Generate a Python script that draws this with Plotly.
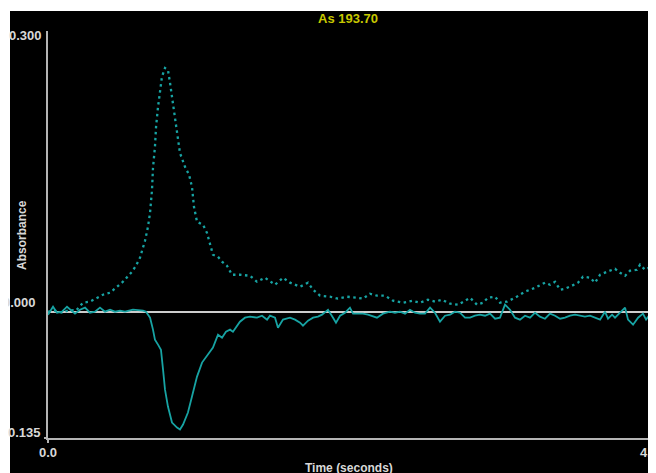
import plotly.graph_objects as go

# ---- data ----
dotted_t = [0.000, 0.057, 0.114, 0.179, 0.228, 0.285, 0.342, 0.400, 0.448, 0.506, 0.563, 0.611,
            0.685, 0.717, 0.750, 0.791, 0.815, 0.832, 0.848, 0.856, 0.872, 0.881, 0.897, 0.913,
            0.929, 0.954, 0.978, 0.995, 1.011, 1.035, 1.060, 1.076, 1.117, 1.150, 1.174, 1.190,
            1.215, 1.264, 1.296, 1.321, 1.345, 1.386, 1.419, 1.459, 1.500, 1.565, 1.622, 1.647,
            1.704, 1.769, 1.851, 1.916, 1.973, 2.055, 2.120, 2.161, 2.218, 2.299, 2.364, 2.438,
            2.519, 2.568, 2.625, 2.682, 2.748, 2.813, 2.894, 2.968, 3.033, 3.098, 3.155, 3.212,
            3.278, 3.343, 3.400, 3.441, 3.498, 3.547, 3.587, 3.645, 3.685, 3.742, 3.808, 3.889,
            3.971, 4.052, 4.093, 4.134, 4.175, 4.215, 4.272, 4.321, 4.362, 4.419, 4.460, 4.501,
            4.558, 4.623, 4.664, 4.705, 4.745, 4.802, 4.827, 4.868, 4.900]
dotted_v = [0.0000, 0.0010, -0.0010, 0.0020, 0.0010, 0.0096, 0.0107, 0.0149, 0.0181, 0.0203, 0.0267, 0.0320,
            0.0427, 0.0491, 0.0577, 0.0758, 0.0907, 0.1057, 0.1302, 0.1537, 0.1762, 0.1975, 0.2189, 0.2370,
            0.2509, 0.2605, 0.2584, 0.2445, 0.2295, 0.2124, 0.1868, 0.1697, 0.1548, 0.1463, 0.1334, 0.1121,
            0.0961, 0.0929, 0.0843, 0.0715, 0.0609, 0.0587, 0.0534, 0.0491, 0.0395, 0.0395, 0.0384, 0.0384,
            0.0320, 0.0363, 0.0288, 0.0363, 0.0310, 0.0267, 0.0310, 0.0235, 0.0171, 0.0160, 0.0139, 0.0160,
            0.0149, 0.0139, 0.0192, 0.0171, 0.0171, 0.0117, 0.0096, 0.0117, 0.0096, 0.0128, 0.0107, 0.0128,
            0.0085, 0.0075, 0.0117, 0.0149, 0.0075, 0.0096, 0.0149, 0.0160, 0.0096, 0.0107, 0.0149, 0.0214,
            0.0256, 0.0310, 0.0288, 0.0320, 0.0235, 0.0246, 0.0278, 0.0310, 0.0374, 0.0363, 0.0310, 0.0395,
            0.0427, 0.0459, 0.0416, 0.0384, 0.0438, 0.0448, 0.0502, 0.0448, 0.0470]

solid_t = [0.000, 0.033, 0.041, 0.073, 0.114, 0.155, 0.196, 0.220, 0.261, 0.302, 0.342, 0.383,
           0.424, 0.465, 0.506, 0.546, 0.587, 0.628, 0.693, 0.775, 0.799, 0.832, 0.856, 0.872,
           0.897, 0.921, 0.938, 0.954, 0.978, 1.011, 1.052, 1.076, 1.101, 1.141, 1.174, 1.215,
           1.256, 1.305, 1.345, 1.386, 1.419, 1.451, 1.484, 1.508, 1.565, 1.606, 1.647, 1.704,
           1.745, 1.786, 1.810, 1.851, 1.875, 1.916, 1.973, 2.014, 2.055, 2.079, 2.120, 2.161,
           2.201, 2.234, 2.283, 2.324, 2.348, 2.381, 2.422, 2.462, 2.487, 2.527, 2.568, 2.609,
           2.642, 2.682, 2.731, 2.788, 2.829, 2.870, 2.911, 2.951, 2.992, 3.033, 3.074, 3.115,
           3.155, 3.196, 3.237, 3.278, 3.318, 3.359, 3.400, 3.441, 3.481, 3.522, 3.563, 3.604,
           3.645, 3.685, 3.726, 3.767, 3.808, 3.848, 3.889, 3.930, 3.971, 4.011, 4.052, 4.093,
           4.134, 4.175, 4.215, 4.256, 4.297, 4.338, 4.378, 4.419, 4.460, 4.501, 4.541, 4.566,
           4.599, 4.623, 4.664, 4.705, 4.729, 4.770, 4.811, 4.851, 4.876, 4.900]
solid_v = [-0.0032, 0.0043, 0.0053, -0.0011, 0.0000, 0.0053, 0.0000, -0.0021, 0.0021, 0.0043, -0.0011, 0.0000,
           0.0043, 0.0000, 0.0021, 0.0000, 0.0011, 0.0000, 0.0021, 0.0011, 0.0000, -0.0064, -0.0192, -0.0299,
           -0.0352, -0.0406, -0.0619, -0.0833, -0.1014, -0.1185, -0.1239, -0.1260, -0.1206, -0.1078, -0.0907, -0.0694,
           -0.0544, -0.0459, -0.0384, -0.0246, -0.0278, -0.0214, -0.0192, -0.0214, -0.0107, -0.0064, -0.0053, -0.0064,
           -0.0043, -0.0085, -0.0043, -0.0064, -0.0171, -0.0085, -0.0064, -0.0085, -0.0117, -0.0149, -0.0096, -0.0064,
           -0.0053, -0.0032, 0.0021, -0.0064, -0.0117, -0.0043, -0.0011, 0.0043, -0.0021, -0.0021, -0.0021, -0.0032,
           -0.0043, -0.0064, -0.0021, 0.0000, -0.0011, 0.0000, -0.0021, 0.0021, -0.0011, -0.0021, -0.0021, 0.0043,
           -0.0011, -0.0107, -0.0043, -0.0032, 0.0000, -0.0011, -0.0064, -0.0064, -0.0043, -0.0032, -0.0043, -0.0021,
           -0.0075, -0.0064, 0.0075, 0.0021, -0.0064, -0.0085, -0.0043, -0.0064, -0.0011, -0.0053, -0.0075, -0.0021,
           -0.0043, -0.0075, -0.0064, -0.0043, -0.0032, -0.0043, -0.0053, -0.0043, -0.0064, -0.0085, 0.0000, -0.0075,
           -0.0032, -0.0064, -0.0011, 0.0043, -0.0085, -0.0139, -0.0064, -0.0021, -0.0085, -0.0043]

title_text = "As 193.70"
x_title = "Time (seconds)"
y_title = "Absorbance"
x_range = [0.0, 4.9]
y_range = [-0.135, 0.300]
x_tick_labels = ["0.0", "4.9"]
y_tick_labels = ["0.300", "0.000", "0.135"]

TEAL = "#17a3a3"
GREY = "#b4b4b4"
LABEL = "#d8d8d8"
YELLOW = "#c8c800"
FONT = "Liberation Sans"

# plot area geometry inside the figure (pixels)
W, H = 656, 473
L, R, T, B = 40, 15, 23, 43
PW, PH = W - L - R, H - T - B

fig = go.Figure()
fig.add_trace(go.Scatter(x=dotted_t, y=dotted_v, mode="lines",
                         line=dict(color=TEAL, width=2.3, dash="2.5px,3.5px"), hoverinfo="skip"))
fig.add_trace(go.Scatter(x=solid_t, y=solid_v, mode="lines",
                         line=dict(color=TEAL, width=1.8), hoverinfo="skip"))

fig.update_layout(
    width=W, height=H,
    paper_bgcolor="white", plot_bgcolor="black",
    margin=dict(l=L, r=R, t=T, b=B),
    showlegend=False,
    xaxis=dict(range=x_range, showgrid=False, zeroline=False, showticklabels=False,
               showline=True, linecolor=GREY, linewidth=2, ticks=""),
    yaxis=dict(range=y_range, showgrid=False, zeroline=True, zerolinecolor="#cccccc",
               zerolinewidth=1.5, showticklabels=False,
               showline=True, linecolor=GREY, linewidth=2, ticks=""),
)

# black panel behind everything (leaves a thin white strip at top and left)
fig.add_shape(type="rect", xref="paper", yref="paper", layer="below",
              x0=(2 - L) / PW, x1=(W - L) / PW, y0=-(B / PH), y1=1 + (T - 3) / PH,
              fillcolor="black", line=dict(width=0))
fig.add_shape(type="line", xref="x", yref="paper", x0=x_range[1], x1=x_range[1], y0=0, y1=1.005,
              line=dict(color=YELLOW, width=2))
# small tick stubs at the axis origin
fig.add_shape(type="line", xref="paper", yref="paper", x0=-4 / PW, x1=0, y0=0, y1=0,
              line=dict(color=GREY, width=2))
fig.add_shape(type="line", xref="paper", yref="paper", x0=0, x1=0, y0=0, y1=-5 / PH,
              line=dict(color=GREY, width=2))

ann_font = dict(family=FONT, size=13, color=LABEL)
fig.add_annotation(text="<b>%s</b>" % title_text, xref="paper", yref="paper", x=0.499, y=1.0,
                   yanchor="middle", yshift=13, showarrow=False,
                   font=dict(family=FONT, size=13, color=YELLOW))
fig.add_annotation(text="<b>%s</b>" % y_tick_labels[0], xref="paper", yref="y", x=0, y=y_range[1],
                   xanchor="right", yanchor="middle", xshift=-4, yshift=-4, showarrow=False, font=ann_font)
fig.add_annotation(text="<b>%s</b>" % y_tick_labels[1], xref="paper", yref="y", x=0, y=0,
                   xanchor="right", yanchor="middle", xshift=-10, yshift=9, showarrow=False, font=ann_font)
fig.add_annotation(text="<b>%s</b>" % y_tick_labels[2], xref="paper", yref="y", x=0, y=y_range[0],
                   xanchor="right", yanchor="middle", xshift=-5, yshift=6, showarrow=False, font=ann_font)
fig.add_annotation(text="<b>%s</b>" % x_tick_labels[0], xref="x", yref="paper", x=x_range[0], y=0,
                   xanchor="center", yanchor="middle", yshift=-14, showarrow=False, font=ann_font)
fig.add_annotation(text="<b>%s</b>" % x_tick_labels[1], xref="x", yref="paper", x=x_range[1], y=0,
                   xanchor="center", yanchor="middle", yshift=-14, showarrow=False, font=ann_font)
fig.add_annotation(text="<b>%s</b>" % x_title, xref="paper", yref="paper", x=0.501, y=0,
                   xanchor="center", yanchor="middle", yshift=-30, showarrow=False,
                   font=dict(family=FONT, size=12, color=LABEL))
fig.add_annotation(text="<b>%s</b>" % y_title, xref="paper", yref="paper", x=0, y=0.499,
                   xanchor="center", yanchor="middle", xshift=-26, textangle=-90, showarrow=False,
                   font=dict(family=FONT, size=12, color=LABEL))

fig.write_html("out.html")
